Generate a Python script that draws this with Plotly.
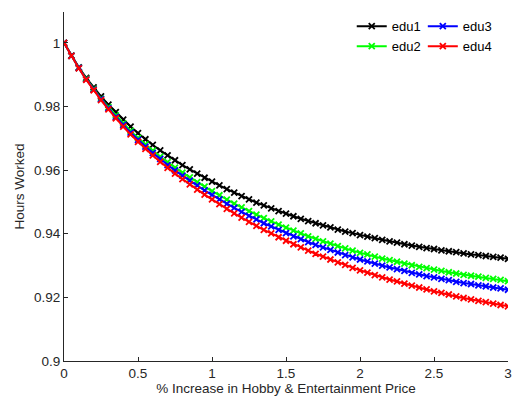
import plotly.graph_objects as go

x_vals = [round(i * 0.05, 2) for i in range(61)]

edu1 = [1.0000, 0.9960, 0.9923, 0.9890, 0.9860, 0.9832, 0.9806, 0.9782, 0.9759, 0.9737,
        0.9716, 0.9697, 0.9679, 0.9662, 0.9646, 0.9631, 0.9616, 0.9602, 0.9589, 0.9576,
        0.9564, 0.9552, 0.9540, 0.9529, 0.9518, 0.9508, 0.9498, 0.9489, 0.9480, 0.9471,
        0.9463, 0.9455, 0.9447, 0.9440, 0.9433, 0.9426, 0.9420, 0.9413, 0.9407, 0.9402,
        0.9396, 0.9391, 0.9386, 0.9381, 0.9376, 0.9372, 0.9367, 0.9363, 0.9359, 0.9355,
        0.9352, 0.9348, 0.9345, 0.9342, 0.9338, 0.9335, 0.9333, 0.9330, 0.9327, 0.9325,
        0.9321]

edu2 = [1.0000, 0.9959, 0.9921, 0.9887, 0.9855, 0.9825, 0.9798, 0.9772, 0.9747, 0.9723,
        0.9701, 0.9681, 0.9661, 0.9642, 0.9625, 0.9608, 0.9592, 0.9577, 0.9562, 0.9548,
        0.9534, 0.9521, 0.9507, 0.9495, 0.9483, 0.9471, 0.9460, 0.9449, 0.9439, 0.9429,
        0.9419, 0.9410, 0.9401, 0.9392, 0.9384, 0.9376, 0.9369, 0.9361, 0.9354, 0.9347,
        0.9340, 0.9335, 0.9328, 0.9322, 0.9317, 0.9312, 0.9306, 0.9301, 0.9296, 0.9292,
        0.9287, 0.9283, 0.9279, 0.9275, 0.9271, 0.9268, 0.9265, 0.9261, 0.9258, 0.9255,
        0.9251]

edu3 = [1.0000, 0.9959, 0.9921, 0.9885, 0.9853, 0.9823, 0.9794, 0.9767, 0.9742, 0.9718,
        0.9695, 0.9674, 0.9654, 0.9635, 0.9616, 0.9599, 0.9583, 0.9567, 0.9552, 0.9536,
        0.9522, 0.9508, 0.9494, 0.9481, 0.9469, 0.9456, 0.9445, 0.9433, 0.9423, 0.9412,
        0.9402, 0.9392, 0.9383, 0.9374, 0.9365, 0.9357, 0.9349, 0.9341, 0.9333, 0.9326,
        0.9319, 0.9313, 0.9306, 0.9300, 0.9294, 0.9289, 0.9283, 0.9277, 0.9272, 0.9267,
        0.9263, 0.9258, 0.9254, 0.9249, 0.9245, 0.9242, 0.9238, 0.9235, 0.9231, 0.9228,
        0.9224]

edu4 = [1.0000, 0.9959, 0.9920, 0.9884, 0.9851, 0.9820, 0.9791, 0.9763, 0.9737, 0.9712,
        0.9689, 0.9667, 0.9646, 0.9626, 0.9607, 0.9589, 0.9572, 0.9555, 0.9539, 0.9523,
        0.9508, 0.9493, 0.9478, 0.9464, 0.9451, 0.9437, 0.9425, 0.9412, 0.9401, 0.9389,
        0.9378, 0.9367, 0.9357, 0.9347, 0.9337, 0.9328, 0.9319, 0.9310, 0.9302, 0.9293,
        0.9285, 0.9278, 0.9270, 0.9263, 0.9256, 0.9250, 0.9243, 0.9237, 0.9231, 0.9225,
        0.9219, 0.9214, 0.9209, 0.9203, 0.9198, 0.9194, 0.9189, 0.9185, 0.9180, 0.9176,
        0.9172]

series = [("edu1", edu1, "#000000", "legend"),
          ("edu2", edu2, "#00FF00", "legend"),
          ("edu3", edu3, "#0000FF", "legend2"),
          ("edu4", edu4, "#FF0000", "legend2")]

x_ticks = [0, 0.5, 1, 1.5, 2, 2.5, 3]
x_tick_text = ["0", "0.5", "1", "1.5", "2", "2.5", "3"]
y_ticks = [0.9, 0.92, 0.94, 0.96, 0.98, 1.0]
y_tick_text = ["0.9", "0.92", "0.94", "0.96", "0.98", "1"]

fig = go.Figure()
for name, vals, col, leg in series:
    fig.add_trace(go.Scatter(
        x=x_vals, y=vals, name=name, mode="lines+markers",
        line=dict(color=col, width=2),
        marker=dict(symbol="x-thin", size=6, color=col, line=dict(color=col, width=1.8)),
        legend=leg,
    ))

axis_col = "#262626"
fs = 13.5
fig.update_layout(
    width=515, height=403,
    margin=dict(l=64, r=7, t=12, b=42, autoexpand=False),
    paper_bgcolor="white", plot_bgcolor="white",
    font=dict(family="Liberation Sans, Arial, sans-serif", size=fs, color=axis_col),
    showlegend=True,
    legend=dict(x=0.683, y=0.972, xref="container", yref="container",
                xanchor="left", yanchor="top",
                bgcolor="rgba(0,0,0,0)", font=dict(size=13, color="#000000"),
                tracegroupgap=0, itemwidth=30),
    legend2=dict(x=0.821, y=0.972, xref="container", yref="container",
                 xanchor="left", yanchor="top",
                 bgcolor="rgba(0,0,0,0)", font=dict(size=13, color="#000000"),
                 tracegroupgap=0, itemwidth=30),
    xaxis=dict(range=[0, 3], tickvals=x_ticks, ticktext=x_tick_text,
               showgrid=False, zeroline=False, showline=True, linecolor=axis_col,
               linewidth=1, ticks="inside", ticklen=4, tickcolor=axis_col,
               tickfont=dict(size=fs, color=axis_col),
               title=dict(text="% Increase in Hobby & Entertainment Price",
                          font=dict(size=fs, color=axis_col), standoff=2)),
    yaxis=dict(range=[0.9, 1.0097], tickvals=y_ticks, ticktext=y_tick_text,
               showgrid=False, zeroline=False, showline=True, linecolor=axis_col,
               linewidth=1, ticks="inside", ticklen=4, tickcolor=axis_col,
               tickfont=dict(size=fs, color=axis_col),
               title=dict(text="Hours Worked", font=dict(size=fs, color=axis_col),
                          standoff=6)),
)

fig.write_html("out.html")
